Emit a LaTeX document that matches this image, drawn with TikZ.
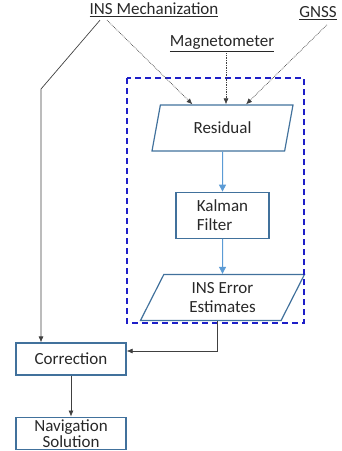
\documentclass[tikz,border=0pt]{standalone}
\usepackage{fontspec}
\setmainfont{Carlito}
\usetikzlibrary{positioning,calc,arrows.meta,shapes.geometric}
\definecolor{boxline}{RGB}{65,113,156}
\definecolor{flowarr}{RGB}{91,155,213}
\definecolor{txt}{RGB}{40,40,40}
\definecolor{dashblue}{RGB}{30,30,200}
\tikzset{every node/.style={font=\fontsize{17}{19}\selectfont, text=txt}}
\tikzset{src/.style={inner sep=1pt}}
\tikzset{blk/.style={draw=boxline, line width=1.2pt, align=center, minimum width=93pt, minimum height=46pt, inner sep=2pt}}
\tikzset{para/.style={draw=boxline, line width=1.2pt, align=center, trapezium, trapezium stretches body, minimum height=46pt, inner sep=1pt}}
\tikzset{arrb/.style={draw=flowarr, line width=1pt, -{Triangle[length=7pt,width=7pt]}}}
\tikzset{arrk/.style={draw=black!75, line width=0.7pt, -{Latex[length=6pt,width=5pt]}}}
\tikzset{arrd/.style={draw=black!75, line width=0.7pt, densely dotted, -{Latex[length=6pt,width=5pt]}}}
\begin{document}
\begin{tikzpicture}[x=1pt,y=-1pt]
\useasboundingbox (0,0) rectangle (341,451);
			\node[src] (mech) at (154,10) {\underline{INS Mechanization}};
			\node[src] (gnss) at (318,13) {\underline{GNSS}};
			\node[src] (mag) at (222,44) {\underline{Magnetometer}};
			\node[para, minimum width=141pt, trapezium left angle=59, trapezium right angle=121] (res) at (222.5,128) {Residual};
			\node[blk, align=left, below=40pt of res] (kf) {Kalman\\Filter};
			\node[para, minimum width=164pt, trapezium left angle=54, trapezium right angle=126, below=35pt of kf] (err) {INS Error\\Estimates};
			\node[blk, minimum width=110pt, minimum height=32pt] (corr) at (71,359) {Correction};
			\node[blk, minimum width=110pt, minimum height=32pt, below=41pt of corr, inner sep=1pt] (nav) {Navigation\\[-3pt]Solution};
			\coordinate (bend) at (41,89);
			% filter box
			\draw[dashblue, line width=1.6pt, dash pattern=on 6pt off 4pt] (127,78) rectangle (304,323);
			\draw[arrd] ([xshift=-47pt,yshift=-2pt]mech.south) -- ([xshift=-30pt]res.north);
			\draw[arrd] ([xshift=4pt]mag.south) -- ([xshift=4pt]mag.south |- res.north);
			\draw[arrd] ([xshift=9pt,yshift=-4pt]gnss.south) -- ([xshift=23.5pt]res.north);
			\draw[arrb] (res) -- (kf);
			\draw[arrb] (kf) -- (err);
			\draw[arrk] ([xshift=-54pt,yshift=-2pt]mech.south) -- (bend) -- (bend |- corr.north);
			\draw[arrk] ([xshift=-5pt]err.south) |- ([yshift=8pt]corr.east);
			\draw[arrk] (corr) -- (nav);
		\end{tikzpicture}
\end{document}
